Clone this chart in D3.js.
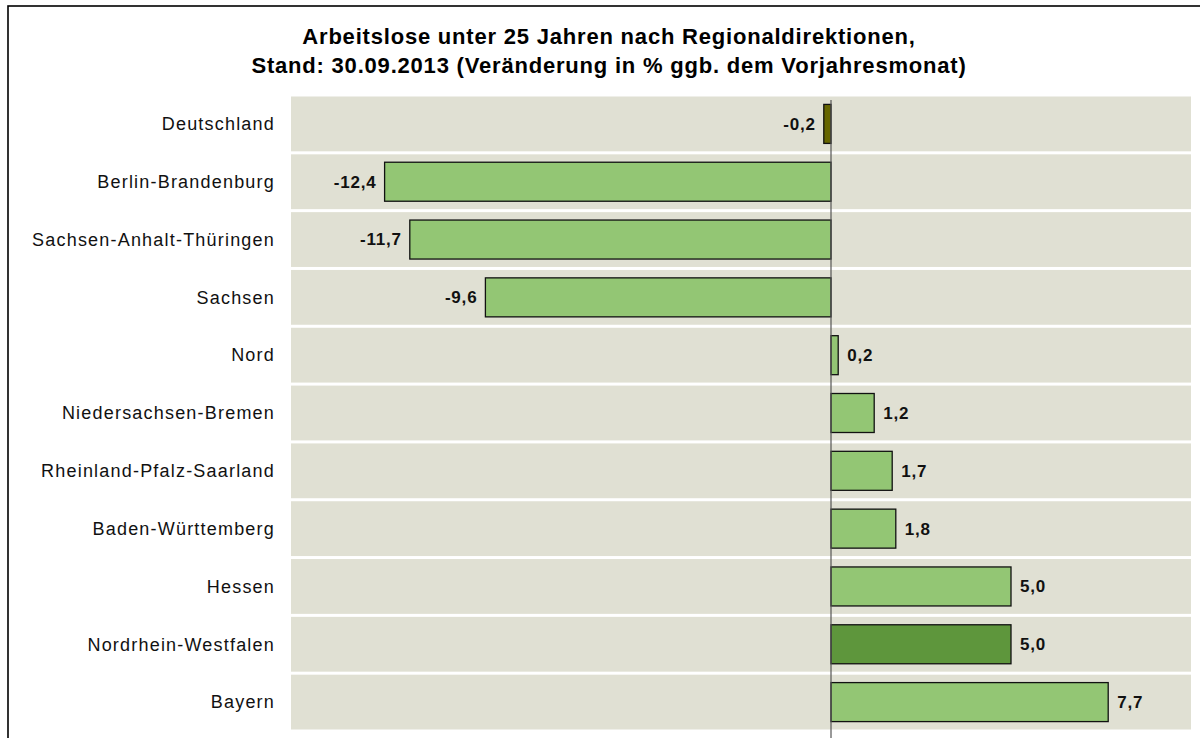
<!DOCTYPE html>
<html>
<head>
<meta charset="utf-8">
<script src="https://cdn.jsdelivr.net/npm/d3@7"></script>
<style>
  body { margin: 0; background: #fff; }
  text { font-family: "Liberation Sans", Arial, sans-serif; }
</style>
</head>
<body>
<div id="chart"></div>
<script>
// Data
var regions = ["Deutschland", "Berlin-Brandenburg", "Sachsen-Anhalt-Thüringen", "Sachsen",
  "Nord", "Niedersachsen-Bremen", "Rheinland-Pfalz-Saarland", "Baden-Württemberg",
  "Hessen", "Nordrhein-Westfalen", "Bayern"];
var changes = [-0.2, -12.4, -11.7, -9.6, 0.2, 1.2, 1.7, 1.8, 5.0, 5.0, 7.7];
var barKinds = ["total", "region", "region", "region", "region", "region", "region",
  "region", "region", "highlight", "region"];
var titleLines = ["Arbeitslose unter 25 Jahren nach Regionaldirektionen,",
  "Stand: 30.09.2013 (Veränderung in % ggb. dem Vorjahresmonat)"];

var svgWidth = 1200;
var svgHeight = 738;

var plot = { left: 291, right: 1191, top: 95, bottom: 731 };

var colors = { total: "#666600", region: "#93c674", highlight: "#5e963c" };

var svg = d3.select("#chart")
    .append("svg")
    .attr("width", svgWidth)
    .attr("height", svgHeight);

// frame
svg.append("rect")
    .attr("x", 8)
    .attr("y", 6)
    .attr("width", 1200)
    .attr("height", 760)
    .attr("fill", "none")
    .attr("stroke", "#000")
    .attr("stroke-width", 1.6);

// title
svg.append("text")
    .attr("text-anchor", "middle")
    .style("font-size", "22px")
    .style("font-weight", "bold")
    .style("letter-spacing", "0.8px")
    .selectAll("tspan")
    .data(titleLines)
    .enter()
    .append("tspan")
    .attr("x", 609)
    .attr("y", (d, i) => 44 + i * 29)
    .text(d => d);

var xScale = d3.scaleLinear().domain([-15, 10]).range([plot.left, plot.right]);
var yScale = d3.scaleBand().domain(regions).range([plot.top, plot.bottom]);

// row bands
svg.selectAll(".band")
    .data(regions)
    .enter()
    .append("rect")
    .attr("class", "band")
    .attr("x", plot.left)
    .attr("y", d => yScale(d) + 1.5)
    .attr("width", plot.right - plot.left)
    .attr("height", yScale.bandwidth() - 3)
    .attr("fill", "#e0e0d3");

// category labels
svg.selectAll(".cat")
    .data(regions)
    .enter()
    .append("text")
    .attr("class", "cat")
    .attr("x", 275)
    .attr("y", d => yScale(d) + yScale.bandwidth() / 2)
    .attr("dy", "0.35em")
    .attr("text-anchor", "end")
    .style("font-size", "18px")
    .style("letter-spacing", "1.2px")
    .attr("fill", "#111")
    .text(d => d);

var barH = 39;

// bars
svg.selectAll(".bar")
    .data(changes)
    .enter()
    .append("rect")
    .attr("class", "bar")
    .attr("x", d => xScale(Math.min(0, d)))
    .attr("y", (d, i) => yScale(regions[i]) + (yScale.bandwidth() - barH) / 2)
    .attr("width", d => Math.abs(xScale(d) - xScale(0)))
    .attr("height", barH)
    .attr("fill", (d, i) => colors[barKinds[i]])
    .attr("stroke", "#111")
    .attr("stroke-width", 1.3);

// zero line
svg.append("line")
    .attr("x1", xScale(0))
    .attr("x2", xScale(0))
    .attr("y1", plot.top + 5)
    .attr("y2", svgHeight)
    .attr("stroke", "#555")
    .attr("stroke-width", 1.2);

// value labels
var fmt = d => d.toFixed(1).replace(".", ",");
svg.selectAll(".val")
    .data(changes)
    .enter()
    .append("text")
    .attr("class", "val")
    .attr("x", d => d < 0 ? xScale(d) - 8 : xScale(d) + 9)
    .attr("y", (d, i) => yScale(regions[i]) + yScale.bandwidth() / 2)
    .attr("dy", "0.35em")
    .attr("text-anchor", d => d < 0 ? "end" : "start")
    .style("font-size", "17px")
    .style("font-weight", "bold")
    .style("letter-spacing", "0.8px")
    .attr("fill", "#111")
    .text(d => fmt(d));
</script>
</body>
</html>
